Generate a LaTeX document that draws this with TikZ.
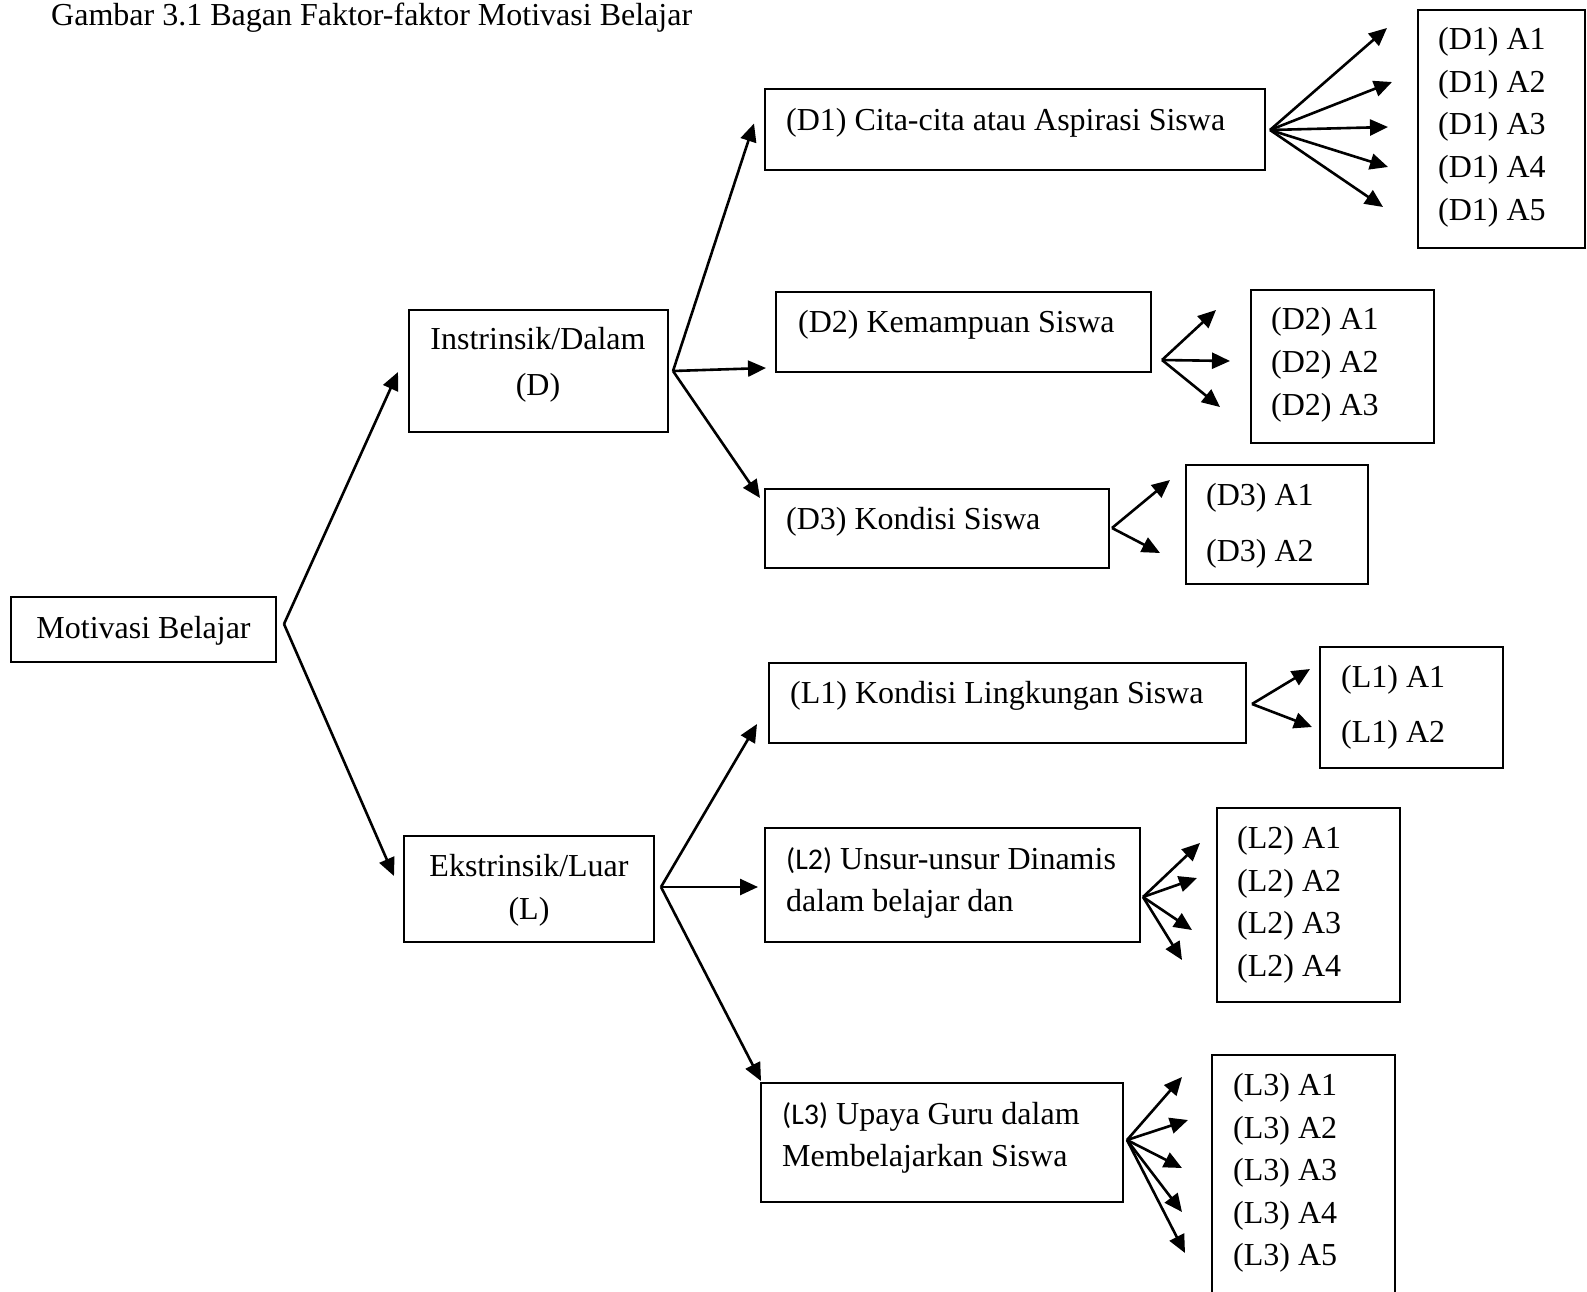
\documentclass[tikz,border=0pt]{standalone}
\usepackage{fontspec}
\setmainfont{Liberation Serif}
\newfontfamily\calfont{Carlito}
\usetikzlibrary{arrows.meta}
\begin{document}
\begin{tikzpicture}[x=1pt,y=-1pt,
  box/.style={draw,line width=2pt,inner sep=0pt,rectangle},
  txt/.style={inner sep=0pt,font=\fontsize{32}{42.5}\selectfont},
  arr/.style={line width=2.6pt,-{Triangle[length=18pt,width=16pt]}}]
\clip (0,0) rectangle (1587,1292);
\fill[white] (0,0) rectangle (1587,1292);

% title
\node[txt,anchor=base west] (title) at (51,26) {Gambar 3.1 Bagan Faktor-faktor Motivasi Belajar};

% boxes
\node[box,minimum width=265pt,minimum height=65pt] (mb) at (143.5,629.5) {};
\node[box,minimum width=259pt,minimum height=122pt] (D) at (538.5,371) {};
\node[box,minimum width=250pt,minimum height=106pt] (L) at (529,889) {};
\node[box,minimum width=500pt,minimum height=81pt] (D1) at (1015,129.5) {};
\node[box,minimum width=375pt,minimum height=80pt] (D2) at (963.5,332) {};
\node[box,minimum width=344pt,minimum height=79pt] (D3) at (937,528.5) {};
\node[box,minimum width=477pt,minimum height=80pt] (L1) at (1007.5,703) {};
\node[box,minimum width=375pt,minimum height=114pt] (L2) at (952.5,885) {};
\node[box,minimum width=362pt,minimum height=119pt] (L3) at (942,1142.5) {};
\node[box,minimum width=167pt,minimum height=238pt] (D1A) at (1501.5,129) {};
\node[box,minimum width=183pt,minimum height=153pt] (D2A) at (1342.5,366.5) {};
\node[box,minimum width=182pt,minimum height=119pt] (D3A) at (1277,524.5) {};
\node[box,minimum width=183pt,minimum height=121pt] (L1A) at (1411.5,707.5) {};
\node[box,minimum width=183pt,minimum height=194pt] (L2A) at (1308.5,905) {};
\node[box,minimum width=183pt,minimum height=255pt] (L3A) at (1303.5,1182.5) {};

% texts
\node[txt,anchor=base] (tmb) at (143.5,638) {Motivasi Belajar};
\node[txt,anchor=base] (tD1) at (538,349.5) {Instrinsik/Dalam};
\node[txt,anchor=base] (tD2) at (538,395) {(D)};
\node[txt,anchor=base] (tL1) at (529,876.5) {Ekstrinsik/Luar};
\node[txt,anchor=base] (tL2) at (529,919.5) {(L)};
\node[txt,anchor=base west] (tD1b) at (786,131) {(D1) Cita-cita atau Aspirasi Siswa};
\node[txt,anchor=base west] (tD2b) at (798,332.5) {(D2) Kemampuan Siswa};
\node[txt,anchor=base west] (tD3b) at (786,529.5) {(D3) Kondisi Siswa};
\node[txt,anchor=base west] (tL1b) at (790,703.5) {(L1) Kondisi Lingkungan Siswa};
\node[txt,anchor=base west] (tL2a) at (786,869.5) {{\calfont\fontsize{30}{40}\selectfont (L2)} Unsur-unsur Dinamis};
\node[txt,anchor=base west] (tL2b) at (786,911.5) {dalam belajar dan};
\node[txt,anchor=base west] (tL3a) at (782,1124.5) {{\calfont\fontsize{30}{40}\selectfont (L3)} Upaya Guru dalam};
\node[txt,anchor=base west] (tL3b) at (782,1166.5) {Membelajarkan Siswa};

\foreach \t [count=\i] in {A1,A2,A3,A4,A5}
  \node[txt,anchor=base west] (d1a\i) at (1438,{50+42.5*(\i-1)}) {(D1) \t};
\foreach \t [count=\i] in {A1,A2,A3}
  \node[txt,anchor=base west] (d2a\i) at (1271,{329.5+43*(\i-1)}) {(D2) \t};
\foreach \t [count=\i] in {A1,A2}
  \node[txt,anchor=base west] (d3a\i) at (1206,{505.5+56*(\i-1)}) {(D3) \t};
\foreach \t [count=\i] in {A1,A2}
  \node[txt,anchor=base west] (l1a\i) at (1341,{687.5+55*(\i-1)}) {(L1) \t};
\foreach \t [count=\i] in {A1,A2,A3,A4}
  \node[txt,anchor=base west] (l2a\i) at (1237,{848.5+42.5*(\i-1)}) {(L2) \t};
\foreach \t [count=\i] in {A1,A2,A3,A4,A5}
  \node[txt,anchor=base west] (l3a\i) at (1233,{1095.5+42.5*(\i-1)}) {(L3) \t};

% connector points
\coordinate (mbo) at (284,624);
\coordinate (Din) at (398,372);
\coordinate (Lin) at (394,876);
\coordinate (Do) at (673,371);
\coordinate (D1in) at (754,123.5);
\coordinate (D2in) at (766,368);
\coordinate (D3in) at (760,498);
\coordinate (Lo) at (661,887);
\coordinate (L1in) at (757,724);
\coordinate (L2in) at (758,887);
\coordinate (L3in) at (761,1081);

\draw[arr] (mbo) -- (Din);
\draw[arr] (mbo) -- (Lin);
\draw[arr] (Do) -- (D1in);
\draw[arr] (Do) -- (D2in);
\draw[arr] (Do) -- (D3in);
\draw[arr] (Lo) -- (L1in);
\draw[arr] (Lo) -- (L2in);
\draw[arr] (Lo) -- (L3in);

\coordinate (d1o) at (1270,130);
\coordinate (d1t1) at (1387,28);
\coordinate (d1t2) at (1392,82);
\coordinate (d1t3) at (1388,127);
\coordinate (d1t4) at (1388,167);
\coordinate (d1t5) at (1383,207);
\coordinate (d2o) at (1162,360);
\coordinate (d2t1) at (1216,310);
\coordinate (d2t2) at (1230,361);
\coordinate (d2t3) at (1220,407);
\coordinate (d3o) at (1112,528);
\coordinate (d3t1) at (1170,480);
\coordinate (d3t2) at (1160,553);
\coordinate (l1o) at (1252,704);
\coordinate (l1t1) at (1310,669);
\coordinate (l1t2) at (1312,727);
\coordinate (l2o) at (1143,897);
\coordinate (l2t1) at (1200,843);
\coordinate (l2t2) at (1197,878);
\coordinate (l2t3) at (1192,930);
\coordinate (l2t4) at (1182,960);
\coordinate (l3o) at (1127,1140);
\coordinate (l3t1) at (1182,1077);
\coordinate (l3t2) at (1188,1120);
\coordinate (l3t3) at (1182,1168);
\coordinate (l3t4) at (1182,1212);
\coordinate (l3t5) at (1185,1253);

\foreach \i in {1,...,5} \draw[arr] (d1o) -- (d1t\i);
\foreach \i in {1,...,3} \draw[arr] (d2o) -- (d2t\i);
\foreach \i in {1,2} \draw[arr] (d3o) -- (d3t\i);
\foreach \i in {1,2} \draw[arr] (l1o) -- (l1t\i);
\foreach \i in {1,...,4} \draw[arr] (l2o) -- (l2t\i);
\foreach \i in {1,...,5} \draw[arr] (l3o) -- (l3t\i);
\end{tikzpicture}
\end{document}
